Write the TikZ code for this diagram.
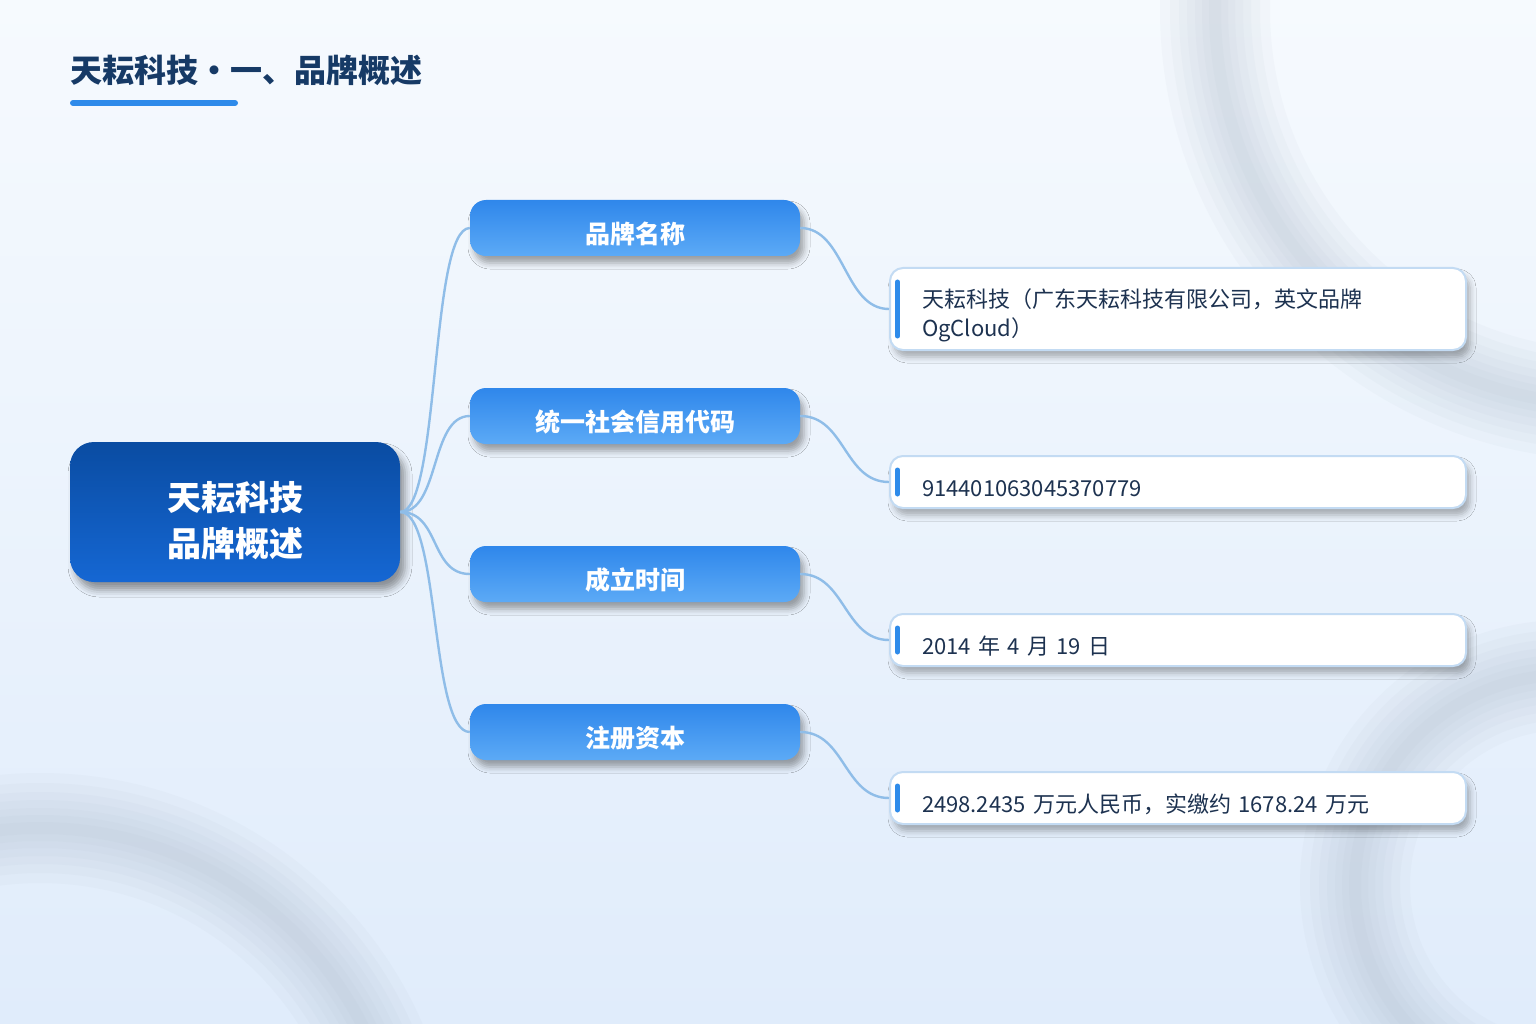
\documentclass[tikz,border=0pt]{standalone}
\usepackage{fontspec}
\setmainfont{Noto Sans CJK SC}
\usepackage{tikz}
\usetikzlibrary{positioning, calc, shadows.blur}
\definecolor{bgtop}{HTML}{F6FAFE}
\definecolor{bgbottom}{HTML}{E0ECFB}
\definecolor{ringgray}{HTML}{A3B1C3}
\definecolor{titlenavy}{HTML}{163A66}
\definecolor{titleblue}{HTML}{2E8BEA}
\definecolor{roottop}{HTML}{0A4CA2}
\definecolor{rootbottom}{HTML}{1567D3}
\definecolor{branchtop}{HTML}{2F87EB}
\definecolor{branchbottom}{HTML}{5CAAF6}
\definecolor{leafline}{HTML}{C3DBF3}
\definecolor{leaftext}{HTML}{1D3250}
\definecolor{linkblue}{HTML}{8FBDE8}

\begin{document}
\begin{tikzpicture}[x=1pt, y=-1pt,
    ring/.style={draw=ringgray, opacity=0.06},
    rootbox/.style={minimum width=330pt, minimum height=140pt, rounded corners=24pt,
      top color=roottop, bottom color=rootbottom, text=white,
      font=\bfseries\fontsize{34}{46}\selectfont,
      blur shadow={shadow xshift=5pt, shadow yshift=-8pt, shadow blur radius=7pt, shadow opacity=40}},
    branchbox/.style={minimum width=330pt, minimum height=56pt, rounded corners=16pt,
      top color=branchtop, bottom color=branchbottom, text=white,
      font=\bfseries\fontsize{25}{30}\selectfont,
      execute at begin node={\rule[-3pt]{0pt}{37pt}},
      blur shadow={shadow xshift=4pt, shadow yshift=-7pt, shadow blur radius=6pt, shadow opacity=35}},
    leafbox/.style={draw=leafline, line width=2pt, fill=white, rounded corners=13pt,
      text width=512pt, inner xsep=32pt, align=left, minimum height=52pt, text=leaftext,
      font=\fontsize{22}{29}\selectfont,
      execute at begin node={\rule[-2.6pt]{0pt}{34pt}},
      blur shadow={shadow xshift=4pt, shadow yshift=-7pt, shadow blur radius=6pt, shadow opacity=30}},
    accent/.style={draw=titleblue, line width=5pt, line cap=round},
    link/.style={draw=linkblue, line width=2.4pt}]

  \useasboundingbox (0,0) rectangle (1536,1024);
  \shade[top color=bgtop, bottom color=bgbottom] (0,0) rectangle (1536,1024);

  % blurred rings in the background
  \begin{scope}
    \clip (0,0) rectangle (1536,1024);
    \foreach \w in {110,90,72,56,40,26,12} {
      \draw[ring, line width=\w pt] (1610,10) circle[radius=395];
      \draw[ring, line width=\w pt] (40,1190) circle[radius=362];
      \draw[ring, line width=\w pt] (1565,885) circle[radius=210];
    }
  \end{scope}

  % title
  \node[anchor=west, inner sep=0pt, text=titlenavy, font=\bfseries\fontsize{32}{38}\selectfont]
    (title) at (70,70) {天耘科技・一、品牌概述};
  \draw[titleblue, line width=6pt, line cap=round] (73,103) -- (235,103);

  % root
  \node[rootbox] (root) at (235,512)
    {\raisebox{-12pt}[\height][\depth]{\begin{tabular}{@{}c@{}}天耘科技\\品牌概述\end{tabular}}};

  % branches
  \node[branchbox] (b1) at (635,228) {品牌名称};
  \node[branchbox] (b2) at (635,416) {统一社会信用代码};
  \node[branchbox] (b3) at (635,574) {成立时间};
  \node[branchbox] (b4) at (635,732) {注册资本};

  % leaves
  \node[leafbox, minimum height=82pt] (l1) at (1178,309) {天耘科技（广东天耘科技有限公司，英文品牌\\OgCloud）};
  \node[leafbox] (l2) at (1178,482) {914401063045370779};
  \node[leafbox] (l3) at (1178,640) {2014 年 4 月 19 日};
  \node[leafbox] (l4) at (1178,798) {2498.2435 万元人民币，实缴约 1678.24 万元};

  \foreach \n in {l1,l2,l3,l4}
    \draw[accent] ($(\n.north west)+(8.5,15)$) -- ($(\n.south west)+(8.5,-15)$);

  % connectors
  \foreach \b in {b1,b2,b3,b4}
    \draw[link] (root.east) .. controls +(40,0) and +(-40,0) .. (\b.west);
  \draw[link] (b1.east) .. controls +(45,0) and +(-45,0) .. (l1.west);
  \draw[link] (b2.east) .. controls +(45,0) and +(-45,0) .. (l2.west);
  \draw[link] (b3.east) .. controls +(45,0) and +(-45,0) .. (l3.west);
  \draw[link] (b4.east) .. controls +(45,0) and +(-45,0) .. (l4.west);
\end{tikzpicture}
\end{document}
